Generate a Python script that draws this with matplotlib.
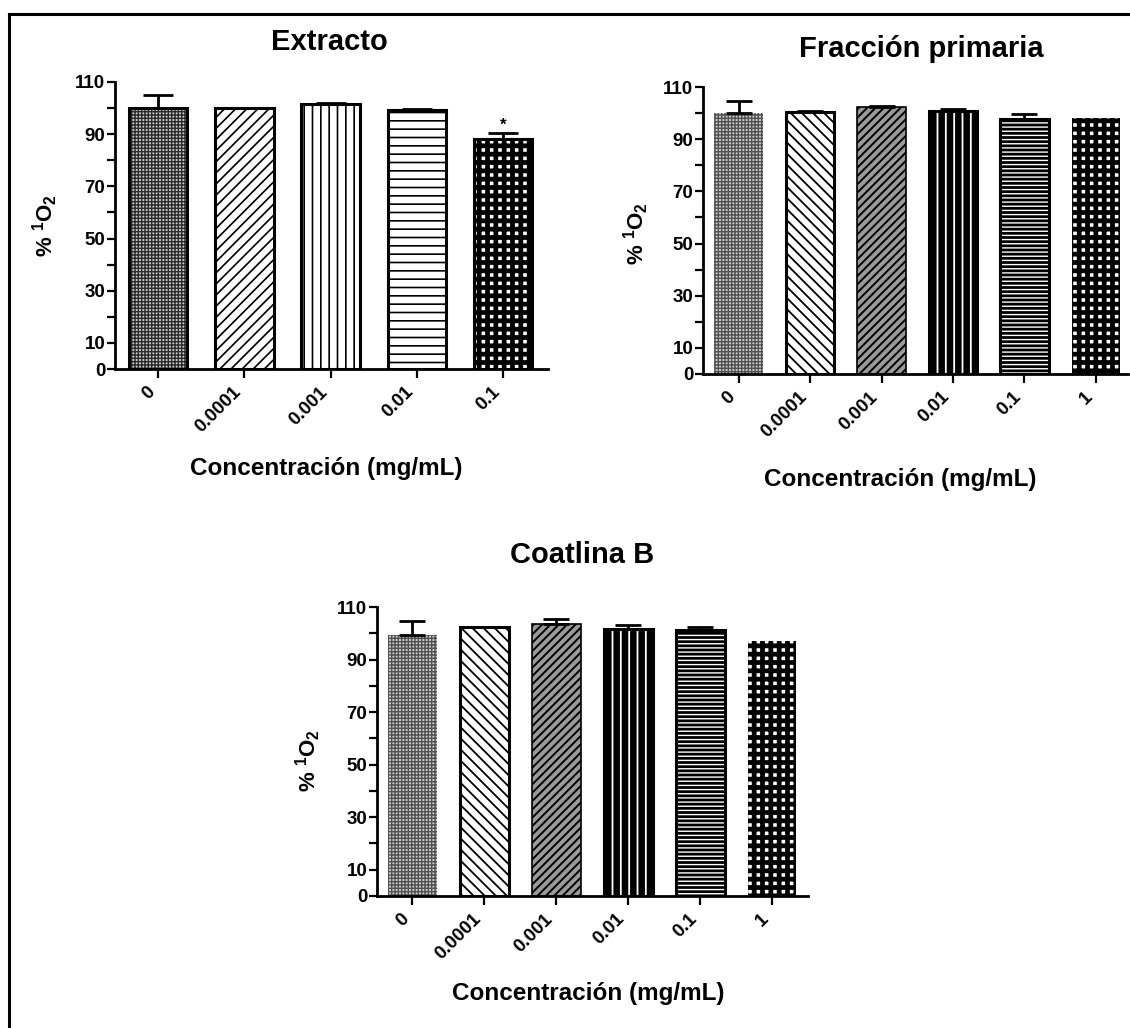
import matplotlib
matplotlib.use("Agg")
import matplotlib.pyplot as plt
from matplotlib.lines import Line2D
import numpy as np

plt.rcParams["font.family"] = ["Liberation Sans", "DejaVu Sans"]
plt.rcParams["mathtext.fontset"] = "custom"
plt.rcParams["mathtext.rm"] = "Liberation Sans"
plt.rcParams["mathtext.bf"] = "Liberation Sans:bold"

# singlet oxygen (% 1O2) vs concentration, mean and SEM
conc_extracto = ["0", "0.0001", "0.001", "0.01", "0.1"]
extracto_mean = [100.2, 100.0, 101.5, 99.4, 88.0]
extracto_sem = [4.8, 0.0, 0.5, 0.2, 2.4]
extracto_sig = ["", "", "", "", "*"]

conc = ["0", "0.0001", "0.001", "0.01", "0.1", "1"]
fraccion_mean = [100.1, 100.4, 102.4, 100.8, 97.6, 98.3]
fraccion_sem = [4.6, 0.4, 0.2, 0.8, 2.0, 0.0]

coatlina_mean = [99.5, 102.2, 103.7, 101.8, 101.4, 97.0]
coatlina_sem = [5.1, 0.0, 1.6, 1.2, 0.9, 0.0]

W, H = 1130, 1028

# (face, hatch, hatch colour, hatch width, outline width)
DOTS_DARK = ("#c8c8c8", "+++++", "#2a2a2a", 1.0, 2.2)
DOTS_LIGHT = ("#cdcdcd", "+++++", "#505050", 1.0, 0)
CHECKER = ("white", "++", "black", 3.4, 2.2)
CHECKER_NO_EDGE = ("white", "++", "black", 3.4, 0)

styles_extracto = [
    DOTS_DARK,
    ("white", "///", "black", 1.2, 2.2),
    ("white", "||", "black", 1.2, 2.2),
    ("white", "--", "black", 1.2, 2.2),
    CHECKER,
]
styles_six = [
    DOTS_LIGHT,
    ("white", "\\\\\\", "black", 1.3, 2.2),
    ("#9a9a9a", "////", "black", 1.4, 1.2),
    ("black", "||", "white", 1.3, 2.2),
    ("black", "----", "white", 1.0, 2.2),
    CHECKER_NO_EDGE,
]


def px_axes(left, right, top, bottom):
    return [left / W, 1 - bottom / H, (right - left) / W, (bottom - top) / H]


def draw_panel(ax, labels, means, sems, styles, xlim, capsize, title, title_xy,
               xlabel_xy, ylabel_xy, sig=None):
    x = np.arange(len(labels))
    width = 0.68
    for xi, m, (face, hatch, hcol, hlw, outline) in zip(x, means, styles):
        fill = ax.bar(xi, m, width=width, color=face, hatch=hatch,
                      edgecolor=hcol, linewidth=0, zorder=2)
        for p in fill:
            if hasattr(p, "set_hatch_linewidth"):
                p.set_hatch_linewidth(hlw)
        if outline:
            ax.bar(xi, m, width=width, fill=False, edgecolor="black",
                   linewidth=outline, zorder=3)

    sems = np.asarray(sems)
    means = np.asarray(means)
    has_err = sems > 0
    ax.errorbar(x[has_err], means[has_err],
                yerr=[np.zeros(has_err.sum()), sems[has_err]],
                fmt="none", ecolor="black", elinewidth=2, capsize=capsize,
                capthick=2, zorder=4)

    if sig:
        for xi, m, s, txt in zip(x, means, sems, sig):
            if txt:
                ax.text(xi, m + s + 3.2, txt, ha="center", va="center",
                        fontsize=12, fontweight="bold")

    ax.set_xlim(*xlim)
    ax.set_ylim(0, 110)
    yt = list(range(0, 111, 10))
    ax.set_yticks(yt, [str(v) if v in (0, 10, 30, 50, 70, 90, 110) else "" for v in yt],
                  fontsize=13.5, fontweight="bold")
    ax.set_xticks(x, labels, rotation=45, ha="right", fontsize=13.5,
                  fontweight="bold")
    ax.tick_params(axis="y", length=5.5, width=1.6, pad=1.5)
    ax.tick_params(axis="x", length=6.5, width=1.6, pad=4)
    for s in ("top", "right"):
        ax.spines[s].set_visible(False)
    for s in ("left", "bottom"):
        ax.spines[s].set_linewidth(2.0)

    ax.set_xlabel("Concentración (mg/mL)", fontsize=17.5, fontweight="bold")
    ax.xaxis.label.set_va("center")
    ax.xaxis.set_label_coords(*xlabel_xy)
    ax.set_ylabel(r"% $^{\mathbf{1}}\mathbf{O}_{\mathbf{2}}$", fontsize=16,
                  fontweight="bold")
    ax.yaxis.label.set_va("center")
    ax.yaxis.set_label_coords(*ylabel_xy)

    fig.text(title_xy[0] / W, 1 - title_xy[1] / H, title, ha="center",
             va="center", fontsize=21, fontweight="bold")


fig = plt.figure(figsize=(W / 100, H / 100), dpi=100)

ax1 = fig.add_axes(px_axes(115, 548, 82, 369))
draw_panel(ax1, conc_extracto, extracto_mean, extracto_sem, styles_extracto,
           (-0.5, 4.52), 11, "Extracto", (329, 42), (0.487, -0.345),
           (-0.162, 0.50), sig=extracto_sig)

ax2 = fig.add_axes(px_axes(703, 1128, 87, 374))
draw_panel(ax2, conc, fraccion_mean, fraccion_sem, styles_six,
           (-0.5, 5.45), 9.4, "Fracción primaria", (921, 49), (0.4635, -0.369),
           (-0.158, 0.49))

ax3 = fig.add_axes(px_axes(377, 808, 607, 896))
draw_panel(ax3, conc, coatlina_mean, coatlina_sem, styles_six,
           (-0.49, 5.5), 9.4, "Coatlina B", (582, 555), (0.4896, -0.336),
           (-0.160, 0.47))

# frame lines along the left and top edges
fig.add_artist(Line2D([9 / W, 9 / W], [0, 1 - 14 / H], transform=fig.transFigure,
                      color="black", linewidth=2.2))
fig.add_artist(Line2D([9 / W, 1], [1 - 14 / H, 1 - 14 / H],
                      transform=fig.transFigure, color="black", linewidth=2.2))

fig.savefig("out.png", dpi=100, facecolor="white")
